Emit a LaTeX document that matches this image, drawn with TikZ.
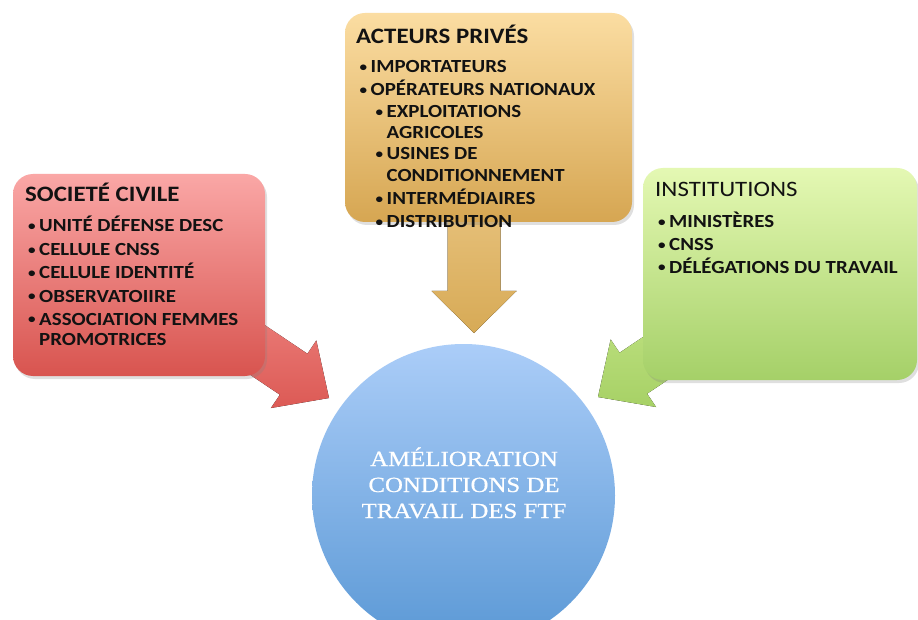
\documentclass[tikz,border=0pt]{standalone}
\usepackage{fontspec}
\usepackage{graphicx}
\setmainfont{Carlito}[FakeStretch=1.13]
\newfontfamily\goalfont[FakeStretch=1.15,FakeBold=0.6]{Liberation Serif}
\usetikzlibrary{shadows}

% panel and arrow colours
\definecolor{civtop}{HTML}{FAA7A6}
\definecolor{civbot}{HTML}{D8544F}
\definecolor{civarrtop}{HTML}{EA7A76}
\definecolor{civarrbot}{HTML}{DC5A55}
\definecolor{privtop}{HTML}{FBDDA2}
\definecolor{privbot}{HTML}{D6A652}
\definecolor{privarrtop}{HTML}{E8C37E}
\definecolor{privarrbot}{HTML}{D7AA56}
\definecolor{insttop}{HTML}{E4F8B3}
\definecolor{instbot}{HTML}{A5D068}
\definecolor{instarrtop}{HTML}{BDE07F}
\definecolor{instarrbot}{HTML}{A7D166}
\definecolor{goaltop}{HTML}{ABCDF8}
\definecolor{goalbot}{HTML}{5A98D5}
\definecolor{ink}{HTML}{121212}

% small list bullet followed by the item text
\newcommand\dotmark{\makebox[11pt][l]{\raisebox{1.4pt}{\scalebox{0.72}{•}}}}

\tikzset{
  panel/.style={rectangle, rounded corners=20pt, inner sep=0pt,
    drop shadow={opacity=0.25, shadow xshift=2pt, shadow yshift=-3pt}},
  headline/.style={anchor=base west, inner sep=0pt, text=ink,
    font=\fontsize{22}{26}\selectfont\bfseries},
  plainhead/.style={anchor=base west, inner sep=0pt, text=ink,
    font=\fontsize{22}{26}\selectfont},
  entry/.style={anchor=base west, inner sep=0pt, text=ink,
    font=\fontsize{18.5}{22}\selectfont\bfseries},
  goalline/.style={anchor=base, inner sep=0pt, text=white,
    font=\goalfont\fontsize{21.6}{26}\selectfont},
}

\begin{document}
\begin{tikzpicture}[x=1pt,y=-1pt]
\fill[white] (0,0) rectangle (918,620);
\useasboundingbox (0,0) rectangle (918,620);

% arrow tips, pointing at the central goal
\coordinate (civtip) at (329,398);
\coordinate (privtip) at (474,333);
\coordinate (insttip) at (598,397);

% block arrows (drawn first, so the panels cover their tails)
\begin{scope}[shift={(civtip)}, rotate=-33.9]
  \fill[top color=civarrtop, bottom color=civarrbot]
    (0,0) -- (-42.6,40.7) -- (-42.6,24.7) -- (-110,24.7) -- (-110,-24.7)
    -- (-42.6,-24.7) -- (-42.6,-40.7) -- cycle;
\end{scope}
\begin{scope}[shift={(privtip)}, rotate=-90]
  \fill[top color=privarrtop, bottom color=privarrbot]
    (0,0) -- (-42,42.5) -- (-42,26.5) -- (-140,26.5) -- (-140,-26.5)
    -- (-42,-26.5) -- (-42,-42.5) -- cycle;
\end{scope}
\begin{scope}[shift={(insttip)}, rotate=-146.1]
  \fill[top color=instarrtop, bottom color=instarrbot]
    (0,0) -- (-42.6,40.7) -- (-42.6,24.7) -- (-110,24.7) -- (-110,-24.7)
    -- (-42.6,-24.7) -- (-42.6,-40.7) -- cycle;
\end{scope}

% panels
\node[panel, minimum width=252, minimum height=202,
      top color=civtop, bottom color=civbot] (civ) at (139,275) {};
\node[panel, minimum width=287, minimum height=209,
      top color=privtop, bottom color=privbot] (priv) at (488.5,117.5) {};
\node[panel, minimum width=274, minimum height=212,
      top color=insttop, bottom color=instbot] (inst) at (780,274) {};

% central goal
\node[circle, minimum size=303, inner sep=0pt,
      top color=goaltop, bottom color=goalbot] (goal) at (463.5,495.5) {};
\node[goalline] (goal1) at (464,466) {AMÉLIORATION};
\node[goalline] (goal2) at (464,492) {CONDITIONS DE};
\node[goalline] (goal3) at (464,518) {TRAVAIL DES FTF};

% société civile
\node[headline] (civh) at (25,201.5) {SOCIETÉ CIVILE};
\node[entry] (civ1) at (28,231.5) {\dotmark UNITÉ DÉFENSE DESC};
\node[entry] (civ2) at (28,255.5) {\dotmark CELLULE CNSS};
\node[entry] (civ3) at (28,278.5) {\dotmark CELLULE IDENTITÉ};
\node[entry] (civ4) at (28,302) {\dotmark OBSERVATOIIRE};
\node[entry] (civ5) at (28,325) {\dotmark ASSOCIATION FEMMES};
\node[entry] (civ5b) at (39,345) {PROMOTRICES};

% acteurs privés
\node[headline] (privh) at (356,43.5) {ACTEURS PRIVÉS};
\node[entry] (priv1) at (359.5,73) {\dotmark IMPORTATEURS};
\node[entry] (priv2) at (359.5,96) {\dotmark OPÉRATEURS NATIONAUX};
\node[entry] (priv3) at (375.5,117.5) {\dotmark EXPLOITATIONS};
\node[entry] (priv3b) at (386.5,138.5) {AGRICOLES};
\node[entry] (priv4) at (375.5,160) {\dotmark USINES DE};
\node[entry] (priv4b) at (386.5,182) {CONDITIONNEMENT};
\node[entry] (priv5) at (375.5,205) {\dotmark INTERMÉDIAIRES};
\node[entry] (priv6) at (375.5,227.5) {\dotmark DISTRIBUTION};

% institutions
\node[plainhead] (insth) at (655,197) {INSTITUTIONS};
\node[entry] (inst1) at (658,228) {\dotmark MINISTÈRES};
\node[entry] (inst2) at (658,250.5) {\dotmark CNSS};
\node[entry] (inst3) at (658,273) {\dotmark DÉLÉGATIONS DU TRAVAIL};
\end{tikzpicture}
\end{document}
